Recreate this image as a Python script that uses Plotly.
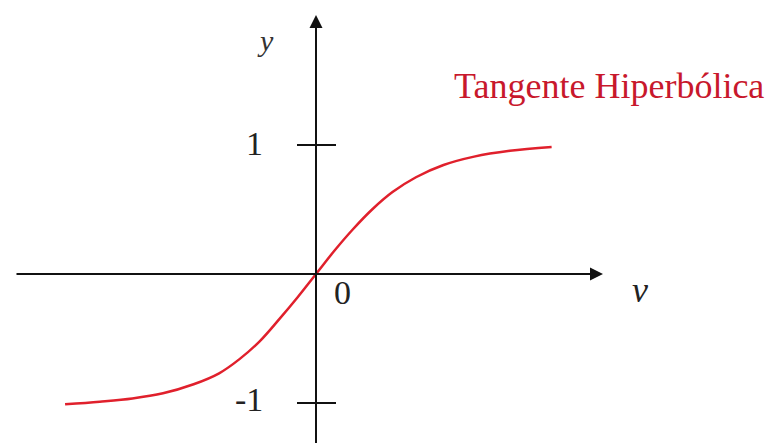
import plotly.graph_objects as go

# Hyperbolic tangent curve, sampled points (v, y)
v_vals = [-2.46, -2.12, -1.80, -1.50, -1.20, -0.95, -0.75, -0.55, -0.36,
          -0.18, 0.0, 0.18, 0.36, 0.55, 0.75, 0.98, 1.25, 1.55, 1.90, 2.31]
y_vals = [-1.01, -0.99, -0.965, -0.925, -0.855, -0.77, -0.66, -0.52, -0.35,
          -0.18, 0.0, 0.18, 0.345, 0.50, 0.635, 0.75, 0.845, 0.91, 0.955, 0.985]

# Marked values on the vertical axis
y_ticks = [1, -1]
y_tick_labels = ["1", "-1"]
origin_label = "0"
curve_name = "Tangente Hiperbólica"

W, H = 774, 443
X0, Y0 = 316, 274          # origin position in pixels
SX, SY = 102, 129          # pixels per unit


def dx(px):
    return (px - X0) / SX


def dy(py):
    return (Y0 - py) / SY


x_range = [dx(0), dx(W)]
y_range = [dy(H), dy(0)]

fig = go.Figure()
fig.add_trace(go.Scatter(
    x=v_vals, y=y_vals, mode="lines",
    line=dict(color="#e0202c", width=2.5, shape="spline", smoothing=1.0),
    hoverinfo="skip", showlegend=False,
))

axis_color = "#111111"
annotations = [
    # horizontal axis with arrow
    dict(x=dx(603), y=0, ax=dx(15), ay=0, xref="x", yref="y",
         axref="x", ayref="y", text="", showarrow=True, arrowhead=2,
         arrowsize=1.3, arrowwidth=2, arrowcolor=axis_color),
    # vertical axis with arrow
    dict(x=0, y=dy(15), ax=0, ay=dy(H + 5), xref="x", yref="y",
         axref="x", ayref="y", text="", showarrow=True, arrowhead=2,
         arrowsize=1.3, arrowwidth=2, arrowcolor=axis_color),
]

serif = "Liberation Serif, Times New Roman, serif"

# tick marks and labels on the vertical axis
shapes = []
for val, lab in zip(y_ticks, y_tick_labels):
    shapes.append(dict(type="line", xref="x", yref="y",
                       x0=dx(X0 - 19), x1=dx(X0 + 20), y0=val, y1=val,
                       line=dict(color=axis_color, width=2)))
    annotations.append(dict(x=dx(265), y=val, xref="x", yref="y", text=lab,
                            showarrow=False, xanchor="right", yanchor="middle",
                            yshift=2 if val > 0 else 4,
                            font=dict(family=serif, size=34, color="#222222")))

annotations += [
    dict(x=dx(332), y=dy(292), xref="x", yref="y", text=origin_label,
         showarrow=False, xanchor="left", yanchor="middle",
         font=dict(family=serif, size=34, color="#222222")),
    dict(x=dx(640), y=dy(290), xref="x", yref="y", text="<i>v</i>",
         showarrow=False, xanchor="center", yanchor="middle",
         font=dict(family=serif, size=36, color="#222222")),
    dict(x=dx(265), y=dy(40), xref="x", yref="y", text="<i>y</i>",
         showarrow=False, xanchor="center", yanchor="middle",
         font=dict(family=serif, size=30, color="#333333")),
    dict(x=dx(452), y=dy(86), xref="x", yref="y", text=curve_name,
         showarrow=False, xanchor="left", yanchor="middle",
         font=dict(family=serif, size=36, color="#c8182c")),
]

fig.update_layout(
    width=W, height=H,
    margin=dict(l=0, r=0, t=0, b=0),
    paper_bgcolor="white", plot_bgcolor="white",
    xaxis=dict(range=x_range, visible=False, fixedrange=True),
    yaxis=dict(range=y_range, visible=False, fixedrange=True),
    shapes=shapes, annotations=annotations,
    showlegend=False,
)

fig.write_html("out.html")
